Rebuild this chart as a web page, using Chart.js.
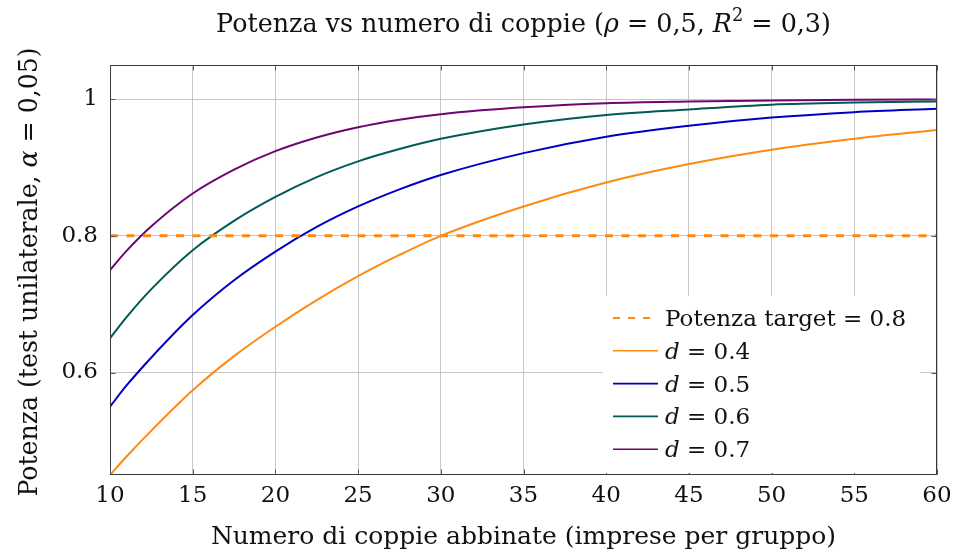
<!DOCTYPE html>
<html><head><meta charset="utf-8">
<script src="https://cdn.jsdelivr.net/npm/chart.js@4/dist/chart.umd.min.js"></script>
<style>html,body{margin:0;padding:0;background:#fff}</style>
</head><body>
<canvas id="c" width="954" height="554" style="width:954px;height:554px;display:block"></canvas>
<script>
// ---- data ----
const coppie = [10, 11, 12.5, 15, 17.5, 20, 22.5, 25, 27.5, 30, 35, 40, 45, 50, 55, 60];
const potenzaD04 = [0.450, 0.477, 0.515, 0.574, 0.624, 0.667, 0.706, 0.741, 0.772, 0.800, 0.843, 0.878, 0.905, 0.926, 0.942, 0.955];
const potenzaD05 = [0.550, 0.581, 0.622, 0.684, 0.735, 0.777, 0.813, 0.843, 0.868, 0.889, 0.921, 0.945, 0.961, 0.973, 0.981, 0.986];
const potenzaD06 = [0.650, 0.681, 0.722, 0.779, 0.822, 0.857, 0.886, 0.909, 0.927, 0.942, 0.963, 0.977, 0.985, 0.992, 0.995, 0.9965];
const potenzaD07 = [0.750, 0.778, 0.814, 0.862, 0.897, 0.924, 0.944, 0.959, 0.970, 0.978, 0.988, 0.994, 0.9965, 0.998, 0.999, 0.9995];
const targetX = [10, 60];
const targetY = [0.8, 0.8];
const xTickValues = [10, 15, 20, 25, 30, 35, 40, 45, 50, 55, 60];
const yTickValues = [0.6, 0.8, 1];
const yTickLabels = ['0.6', '0.8', '1'];
const dValues = ['0.4', '0.5', '0.6', '0.7'];
const targetLabel = 'Potenza target = 0.8';

const FONT = '"DejaVu Serif", "Liberation Serif", serif';
const COLORS = { orange: '#ff8a12', blue: '#0000c4', teal: '#005a55', purple: '#6e0670' };

const toXY = (xs, ys) => xs.map((x, i) => ({ x, y: ys[i] }));

function richWidth(ctx, segs, size) {
  let w = 0;
  for (const s of segs) {
    const sz = s.sup ? size * 0.7 : size;
    ctx.font = (s.it ? 'italic ' : '') + sz + 'px ' + FONT;
    w += ctx.measureText(s.t).width;
  }
  return w;
}
function drawRich(ctx, segs, x, y, size, align) {
  const w = richWidth(ctx, segs, size);
  let cx = align === 'center' ? x - w / 2 : x;
  ctx.textBaseline = 'alphabetic';
  ctx.textAlign = 'left';
  for (const s of segs) {
    const sz = s.sup ? size * 0.7 : size;
    ctx.font = (s.it ? 'italic ' : '') + sz + 'px ' + FONT;
    ctx.fillText(s.t, cx, s.sup ? y - size * 0.42 : y);
    cx += ctx.measureText(s.t).width;
  }
}

const deco = {
  id: 'deco',
  afterDraw(chart) {
    const { ctx, chartArea: a, scales } = chart;
    ctx.save();
    // frame
    const L = Math.round(a.left) + 0.5, R = Math.round(a.right) - 0.5;
    const T = Math.round(a.top) + 0.5, B = Math.round(a.bottom) - 0.5;
    ctx.strokeStyle = '#3a3a3a';
    ctx.lineWidth = 1;
    ctx.strokeRect(L, T, R - L, B - T);
    // inward tick marks
    ctx.strokeStyle = '#555';
    ctx.beginPath();
    for (const v of xTickValues) {
      const px = Math.round(scales.x.getPixelForValue(v)) + 0.5;
      ctx.moveTo(px, B); ctx.lineTo(px, B - 5);
      ctx.moveTo(px, T); ctx.lineTo(px, T + 5);
    }
    for (const v of yTickValues) {
      const py = Math.round(scales.y.getPixelForValue(v)) + 0.5;
      ctx.moveTo(L, py); ctx.lineTo(L + 5, py);
      ctx.moveTo(R, py); ctx.lineTo(R - 5, py);
    }
    ctx.stroke();

    // legend
    ctx.fillStyle = '#fff';
    ctx.fillRect(603, 296, 317, 177);
    const rows = [
      { color: COLORS.orange, dash: [7, 8], w: 2.2, segs: [{ t: targetLabel }] },
      { color: COLORS.orange, dash: [], w: 1.6, segs: [{ t: 'd', it: true }, { t: ' = ' + dValues[0] }] },
      { color: COLORS.blue, dash: [], w: 1.6, segs: [{ t: 'd', it: true }, { t: ' = ' + dValues[1] }] },
      { color: COLORS.teal, dash: [], w: 1.6, segs: [{ t: 'd', it: true }, { t: ' = ' + dValues[2] }] },
      { color: COLORS.purple, dash: [], w: 1.6, segs: [{ t: 'd', it: true }, { t: ' = ' + dValues[3] }] },
    ];
    rows.forEach((r, i) => {
      const yc = 318 + i * 32.8;
      ctx.strokeStyle = r.color;
      ctx.lineWidth = r.w;
      ctx.setLineDash(r.dash);
      ctx.beginPath();
      ctx.moveTo(613, yc); ctx.lineTo(658, yc);
      ctx.stroke();
      ctx.setLineDash([]);
      ctx.fillStyle = '#111';
      drawRich(ctx, r.segs, 665, yc + 8, 23, 'left');
    });

    // title
    ctx.fillStyle = '#111';
    const cxp = (a.left + a.right) / 2;
    drawRich(ctx, [
      { t: 'Potenza vs numero di coppie (' }, { t: 'ρ', it: true }, { t: ' = 0,5, ' },
      { t: 'R', it: true }, { t: '2', sup: true }, { t: ' = 0,3)' }
    ], cxp, 32, 25.4, 'center');
    // x axis title
    drawRich(ctx, [{ t: 'Numero di coppie abbinate (imprese per gruppo)' }], cxp, 544, 25, 'center');
    // y axis title
    ctx.translate(37, (a.top + a.bottom) / 2 + 2);
    ctx.rotate(-Math.PI / 2);
    drawRich(ctx, [{ t: 'Potenza (test unilaterale, ' }, { t: 'α', it: true }, { t: ' = 0,05)' }], 0, 0, 25.2, 'center');
    ctx.restore();
  }
};

const lineDs = (label, ys, color) => ({
  label, data: toXY(coppie, ys), borderColor: color, backgroundColor: color,
  borderWidth: 2, pointRadius: 0, cubicInterpolationMode: 'monotone', fill: false
});

new Chart(document.getElementById('c'), {
  type: 'line',
  data: {
    datasets: [
      { label: targetLabel, data: toXY(targetX, targetY), borderColor: COLORS.orange,
        borderWidth: 3, borderDash: [8, 8.5], pointRadius: 0, fill: false },
      lineDs('d = ' + dValues[0], potenzaD04, COLORS.orange),
      lineDs('d = ' + dValues[1], potenzaD05, COLORS.blue),
      lineDs('d = ' + dValues[2], potenzaD06, COLORS.teal),
      lineDs('d = ' + dValues[3], potenzaD07, COLORS.purple),
    ]
  },
  options: {
    responsive: false,
    animation: false,
    layout: { padding: { top: 65, right: 17, left: 0, bottom: 0 } },
    plugins: { legend: { display: false }, title: { display: false }, tooltip: { enabled: false } },
    scales: {
      x: {
        type: 'linear', min: 10, max: 60,
        afterBuildTicks: s => { s.ticks = xTickValues.map(v => ({ value: v })); },
        afterFit: s => { s.height = 79; s.paddingLeft = 0; s.paddingRight = 0; },
        grid: { color: '#c6c6c6', lineWidth: 1, drawTicks: false },
        border: { display: false },
        ticks: { color: '#111', font: { family: FONT, size: 23 }, padding: 7, maxRotation: 0 }
      },
      y: {
        type: 'linear', min: 0.45, max: 1.05,
        afterBuildTicks: s => { s.ticks = yTickValues.map(v => ({ value: v })); },
        afterFit: s => { s.width = 110; s.paddingTop = 0; s.paddingBottom = 0; },
        grid: { color: '#c6c6c6', lineWidth: 1, drawTicks: false },
        border: { display: false },
        ticks: {
          color: '#111', font: { family: FONT, size: 23 }, padding: 12,
          callback: v => { const i = yTickValues.findIndex(t => Math.abs(t - v) < 1e-9); return i >= 0 ? yTickLabels[i] : ''; }
        }
      }
    }
  },
  plugins: [deco]
});
</script>
</body></html>
